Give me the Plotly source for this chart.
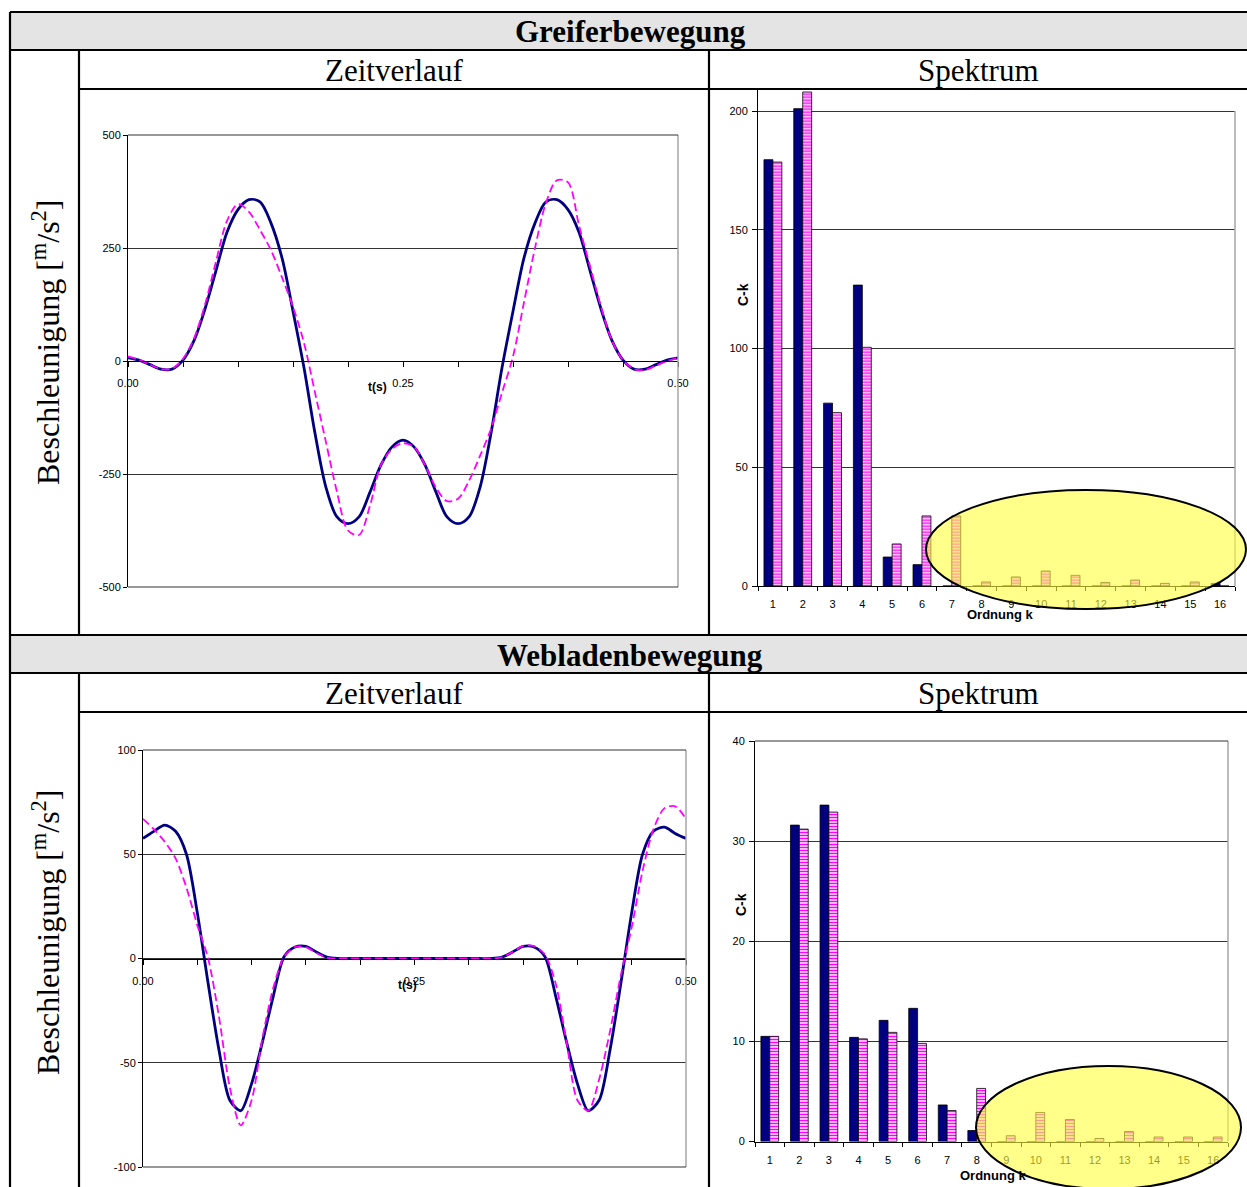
import plotly.graph_objects as go

W, H = 1247, 1187

# ---------------- data ----------------
t = [0.00, 0.01, 0.02, 0.03, 0.04, 0.05, 0.06, 0.07, 0.08, 0.09,
     0.10, 0.11, 0.12, 0.13, 0.14, 0.15, 0.16, 0.17, 0.18, 0.19,
     0.20, 0.21, 0.22, 0.23, 0.24, 0.25, 0.26, 0.27, 0.28, 0.29,
     0.30, 0.31, 0.32, 0.33, 0.34, 0.35, 0.36, 0.37, 0.38, 0.39,
     0.40, 0.41, 0.42, 0.43, 0.44, 0.45, 0.46, 0.47, 0.48, 0.49, 0.50]

greifer_messung = [7, 2, -8, -18, -18, 2, 45, 115, 200, 285,
                   335, 357, 352, 305, 228, 110, -15, -160, -280, -345,
                   -360, -345, -290, -230, -190, -175, -190, -230, -290, -345,
                   -360, -345, -280, -160, -15, 110, 228, 305, 352, 357,
                   335, 285, 200, 115, 45, 2, -18, -18, -8, 2, 7]

greifer_fourier = [10, 3, -8, -18, -17, 5, 50, 125, 220, 310,
                   347, 330, 290, 245, 185, 120, 40, -70, -180, -290,
                   -375, -385, -320, -230, -195, -182, -190, -230, -280, -310,
                   -305, -265, -210, -150, -70, 10, 130, 250, 350, 400,
                   395, 300, 210, 120, 45, 2, -18, -20, -10, 0, 7]

weblade_messung = [57.6, 61, 64, 61, 50, 22, -12, -44, -68, -73,
                   -60, -40, -18, 1, 5.5, 5.8, 3, 0.5, 0, 0,
                   0, 0, 0, 0, 0, 0, 0, 0, 0, 0,
                   0, 0, 0, 0.5, 3, 5.8, 5.5, 1, -18, -40,
                   -60, -73, -68, -44, -12, 22, 50, 61, 63, 60, 57.6]

weblade_fourier = [67, 62, 56, 48, 34, 16, 0, -28, -62, -80,
                   -68, -38, -14, 1, 5.5, 5.5, 2.5, 0.3, 0, 0,
                   0, 0, 0, 0, 0, 0, 0, 0, 0, 0,
                   0, 0, 0, 0.5, 3, 6, 6, 2, -12, -40,
                   -68, -73, -58, -35, -8, 15, 42, 62, 72, 73, 67]

ordnung = [1, 2, 3, 4, 5, 6, 7, 8, 9, 10, 11, 12, 13, 14, 15, 16]
greifer_ck_messung = [179.5, 201, 77, 126.7, 12.2, 9, 0, 0, 0, 0, 0, 0, 0, 0, 0, 1.1]
greifer_ck_fourier = [178.5, 208, 73, 100.5, 17.7, 29.5, 29.5, 1.7, 3.8, 6.3, 4.5, 1.5, 2.5, 1.1, 1.7, 0]
weblade_ck_messung = [10.5, 31.6, 33.6, 10.4, 12.1, 13.3, 3.65, 1.1, 0, 0, 0, 0, 0, 0, 0, 0]
weblade_ck_fourier = [10.5, 31.2, 32.9, 10.25, 10.9, 9.8, 3.1, 5.3, 0.57, 2.9, 2.2, 0.3, 1.0, 0.45, 0.45, 0.45]

t_tickvals = [0.00, 0.05, 0.10, 0.15, 0.20, 0.25, 0.30, 0.35, 0.40, 0.45, 0.50]
t_ticktext = ["0.00", "", "", "", "", "0.25", "", "", "", "", "0.50"]
greifer_yticks = [-500, -250, 0, 250, 500]
greifer_yticktext = ["-500", "-250", "0", "250", "500"]
weblade_yticks = [-100, -50, 0, 50, 100]
weblade_yticktext = ["-100", "-50", "0", "50", "100"]

# ---------------- helpers ----------------
def px(x):
    return x / W


def py(y):
    return 1 - y / H


NAVY = "#000080"
MAG = "#ff00ff"
SANS = "Arial, Liberation Sans, sans-serif"
SERIF = "Times New Roman, Liberation Serif, serif"
GRID = "#333333"

fig = go.Figure()

fig.add_trace(go.Scatter(x=t, y=greifer_messung, mode="lines", xaxis="x", yaxis="y",
                         line=dict(color=NAVY, width=2.8, shape="spline", smoothing=0.9),
                         showlegend=False, hoverinfo="skip"))
fig.add_trace(go.Scatter(x=t, y=greifer_fourier, mode="lines", xaxis="x", yaxis="y",
                         line=dict(color=MAG, width=1.8, dash="8px,4px", shape="spline", smoothing=0.9),
                         showlegend=False, hoverinfo="skip"))
fig.add_trace(go.Scatter(x=t, y=weblade_messung, mode="lines", xaxis="x3", yaxis="y3",
                         line=dict(color=NAVY, width=2.8, shape="spline", smoothing=0.8),
                         showlegend=False, hoverinfo="skip"))
fig.add_trace(go.Scatter(x=t, y=weblade_fourier, mode="lines", xaxis="x3", yaxis="y3",
                         line=dict(color=MAG, width=1.8, dash="8px,4px", shape="spline", smoothing=0.8),
                         showlegend=False, hoverinfo="skip"))

pat = dict(shape="-", fgcolor=MAG, bgcolor="#fff0ff", size=3, solidity=0.5)
for xa, ya, a, b in [("x2", "y2", greifer_ck_messung, greifer_ck_fourier),
                     ("x4", "y4", weblade_ck_messung, weblade_ck_fourier)]:
    fig.add_trace(go.Bar(x=ordnung, y=a, xaxis=xa, yaxis=ya,
                         marker=dict(color=NAVY, line=dict(color="black", width=0.8)),
                         showlegend=False, hoverinfo="skip"))
    fig.add_trace(go.Bar(x=ordnung, y=b, xaxis=xa, yaxis=ya,
                         marker=dict(color="#fff0ff", pattern=pat, line=dict(color="black", width=0.8)),
                         showlegend=False, hoverinfo="skip"))

tickfont = dict(family=SANS, size=11, color="black")

d_tl_x = [px(128), px(678)]
d_tl_y = [py(587), py(135)]
d_tr_x = [px(758), px(1235)]
d_tr_y = [py(586), py(586 - 209 * 2.375)]
d_bl_x = [px(143), px(686)]
d_bl_y = [py(1167), py(750)]
d_br_x = [px(755), px(1228)]
d_br_y = [py(1141.5), py(741)]

line_x_common = dict(range=[0, 0.5], tickvals=t_tickvals, ticktext=t_ticktext,
                     ticks="outside", ticklen=5, tickcolor="black", tickwidth=1,
                     showline=True, linecolor="black", linewidth=1, showgrid=False,
                     zeroline=False, tickfont=tickfont, ticklabelstandoff=7,
                     anchor="free", fixedrange=True, automargin=False)

fig.update_layout(
    template="none",
    width=W, height=H, margin=dict(l=0, r=0, t=0, b=0, pad=0, autoexpand=False), autosize=False,
    paper_bgcolor="white", plot_bgcolor="rgba(0,0,0,0)",
    bargap=0.4, bargroupgap=0, barmode="group",
    xaxis=dict(domain=d_tl_x, position=(d_tl_y[0] + d_tl_y[1]) / 2, **line_x_common),
    yaxis=dict(domain=d_tl_y, range=[-500, 500], tickvals=greifer_yticks, ticktext=greifer_yticktext,
               ticks="outside", ticklen=4, tickcolor="black", showline=True, linecolor="black",
               showgrid=True, gridcolor=GRID, gridwidth=1, zeroline=False, tickfont=tickfont,
               anchor="x", fixedrange=True, automargin=False),
    xaxis3=dict(domain=d_bl_x, position=(d_bl_y[0] + d_bl_y[1]) / 2, **line_x_common),
    yaxis3=dict(domain=d_bl_y, range=[-100, 100], tickvals=weblade_yticks, ticktext=weblade_yticktext,
                ticks="outside", ticklen=4, tickcolor="black", showline=True, linecolor="black",
                showgrid=True, gridcolor=GRID, gridwidth=1, zeroline=False, tickfont=tickfont,
                anchor="x3", fixedrange=True, automargin=False),
    xaxis2=dict(domain=d_tr_x, range=[0.5, 16.5], tickvals=ordnung, ticks="",
                minor=dict(tick0=0.5, dtick=1, ticks="outside", ticklen=4, tickcolor="black", showgrid=False),
                showline=True, linecolor="black", showgrid=False, zeroline=False,
                tickfont=tickfont, ticklabelstandoff=8, anchor="y2", fixedrange=True, automargin=False),
    yaxis2=dict(domain=d_tr_y, range=[0, 209], tickvals=[0, 50, 100, 150, 200],
                ticks="outside", ticklen=5, tickcolor="black", showline=True, linecolor="black",
                showgrid=True, gridcolor=GRID, zeroline=False, tickfont=tickfont,
                ticklabelstandoff=2, anchor="x2", fixedrange=True, automargin=False),
    xaxis4=dict(domain=d_br_x, range=[0.5, 16.5], tickvals=ordnung, ticks="",
                minor=dict(tick0=0.5, dtick=1, ticks="outside", ticklen=4, tickcolor="black", showgrid=False),
                showline=True, linecolor="black", showgrid=False, zeroline=False,
                tickfont=tickfont, ticklabelstandoff=8, anchor="y4", fixedrange=True, automargin=False),
    yaxis4=dict(domain=d_br_y, range=[0, 40], tickvals=[0, 10, 20, 30, 40],
                ticks="outside", ticklen=5, tickcolor="black", showline=True, linecolor="black",
                showgrid=True, gridcolor=GRID, zeroline=False, tickfont=tickfont,
                ticklabelstandoff=2, anchor="x4", fixedrange=True, automargin=False),
)

shapes = []
for y0, y1 in [(12, 50), (635, 673)]:
    shapes.append(dict(type="rect", xref="paper", yref="paper", x0=px(10), x1=px(1247),
                       y0=py(y1), y1=py(y0), fillcolor="#e4e4e4", line=dict(width=0), layer="below"))

border = "#a6a6a6"
for (x0, y0, x1, y1) in [(678, 135, 678, 587), (1235, 111, 1235, 586),
                         (686, 750, 686, 1167), (1228, 741, 1228, 1141.5)]:
    shapes.append(dict(type="line", xref="paper", yref="paper", x0=px(x0), x1=px(x1),
                       y0=py(y0), y1=py(y1), line=dict(color=border, width=1.5)))
for (x0, y0, x1, y1) in [(128, 135, 678, 135), (128, 587, 678, 587),
                         (143, 750, 686, 750), (143, 1167, 686, 1167),
                         (755, 741, 1228, 741)]:
    shapes.append(dict(type="line", xref="paper", yref="paper", x0=px(x0), x1=px(x1),
                       y0=py(y0), y1=py(y1), line=dict(color=GRID, width=1)))

tl = []
tl += [(10, 12, 1247, 12), (10, 50, 1247, 50), (79, 89, 1247, 89),
       (10, 635, 1247, 635), (10, 673, 1247, 673), (79, 712, 1247, 712)]
tl += [(10, 12, 10, 1190), (79, 50, 79, 635), (79, 673, 79, 1190),
       (709, 50, 709, 635), (709, 673, 709, 1190)]
for (x0, y0, x1, y1) in tl:
    shapes.append(dict(type="line", xref="paper", yref="paper", x0=px(x0), x1=px(x1),
                       y0=py(y0), y1=py(y1), line=dict(color="black", width=2.2), layer="above"))

for (x0, y0, x1, y1) in [(926, 490, 1246, 609), (976, 1066, 1241, 1189)]:
    shapes.append(dict(type="circle", xref="paper", yref="paper", x0=px(x0), x1=px(x1),
                       y0=py(y1), y1=py(y0), fillcolor="rgba(255,255,60,0.6)",
                       line=dict(color="black", width=2), layer="above"))

fig.update_layout(shapes=shapes)

ann = []


def text(x, y, s, size, family=SERIF, bold=False, angle=0):
    if bold:
        s = "<b>" + s + "</b>"
    ann.append(dict(x=px(x), y=py(y), xref="paper", yref="paper", text=s, showarrow=False,
                    xanchor="center", yanchor="middle", textangle=angle,
                    font=dict(family=family, size=size, color="black")))


text(630, 31, "Greiferbewegung", 31, bold=True)
text(394, 70, "Zeitverlauf", 31)
text(979, 70, "Spektrum", 31)
text(630, 655, "Webladenbewegung", 31, bold=True)
text(394, 693, "Zeitverlauf", 31)
text(979, 693, "Spektrum", 31)
text(46, 343, "Beschleunigung [<sup>m</sup>/s<sup>2</sup>]", 32, angle=-90)
text(46, 933, "Beschleunigung [<sup>m</sup>/s<sup>2</sup>]", 32, angle=-90)

text(377, 387, "t(s)", 12, family=SANS, bold=True)
text(407, 985, "t(s)", 12, family=SANS, bold=True)
text(743, 295, "C-k", 14, family=SANS, bold=True, angle=-90)
text(741, 905, "C-k", 14, family=SANS, bold=True, angle=-90)
text(1000, 615, "Ordnung k", 13, family=SANS, bold=True)
text(993, 1175, "Ordnung k", 13, family=SANS, bold=True)

fig.update_layout(annotations=ann)

fig.write_html("out.html", config={"displayModeBar": False},
               post_script="document.body.style.margin='0';document.body.style.overflow='hidden';")
